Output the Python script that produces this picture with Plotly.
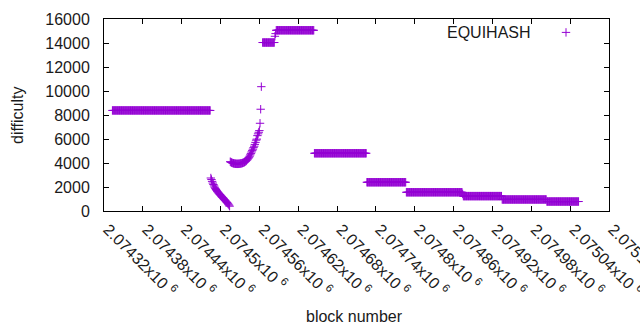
import plotly.graph_objects as go

# ---- data ----
# plateaus: first block, last block, difficulty (constant over the run)
plateau_first = [2074333, 2074565, 2074586, 2074645, 2074726, 2074787, 2074875, 2074935, 2075004]
plateau_last = [2074484, 2074583, 2074644, 2074725, 2074786, 2074873, 2074934, 2075003, 2075053]
plateau_diff = [8380, 14040, 15060, 4810, 2395, 1560, 1240, 960, 790]

# individual blocks between plateaus
single_blocks = [2074584, 2074585, 2074874]
single_diff = [14560, 14780, 1420]

# falling curve after first plateau
fall_first_block = 2074485
fall_diff = [2750, 2620, 2470, 2330, 2210, 2090, 1980, 1880, 1790, 1710,
             1630, 1560, 1490, 1430, 1370, 1310, 1250, 1190, 1130, 1070,
             1010, 950, 890, 830, 770, 710, 640, 570, 490, 400]

# dip and rising curve
rise_first_block = 2074515
rise_diff = [4110, 4070, 4040, 4010, 3990, 3975, 3960, 3950, 3940, 3935,
             3930, 3930, 3930, 3935, 3940, 3950, 3960, 3970, 3985, 4000,
             4020, 4045, 4075, 4110, 4150, 4200, 4260, 4330, 4400, 4480,
             4570, 4680, 4800, 4920, 5030, 5150, 5280, 5400, 5550, 5720,
             5900, 5990, 6280, 6430, 6560, 6700, 7310, 8480, 10360]

x_tick_vals = [2074320 + 60 * i for i in range(14)]
x_tick_text = ["2.07432", "2.07438", "2.07444", "2.0745", "2.07456", "2.07462",
               "2.07468", "2.07474", "2.0748", "2.07486", "2.07492", "2.07498",
               "2.07504", "2.0751"]
y_tick_vals = [0, 2000, 4000, 6000, 8000, 10000, 12000, 14000, 16000]

# ---- assemble series ----
xs, ys = [], []
for a, b, d in zip(plateau_first, plateau_last, plateau_diff):
    for blk in range(a, b + 1):
        xs.append(blk)
        ys.append(d)
for blk, d in zip(single_blocks, single_diff):
    xs.append(blk)
    ys.append(d)
for i, d in enumerate(fall_diff):
    xs.append(fall_first_block + i)
    ys.append(d)
for i, d in enumerate(rise_diff):
    xs.append(rise_first_block + i)
    ys.append(d)

COLOR = "#9400d3"
FONT = "Liberation Sans, Arial, sans-serif"
TXT = "#1a1a1a"

fig = go.Figure()
fig.add_trace(go.Scatter(
    x=xs, y=ys, mode="markers", name=" ",
    marker=dict(symbol="cross-thin", size=6, color=COLOR,
                line=dict(color=COLOR, width=1)),
    showlegend=True, cliponaxis=False,
))

axis_common = dict(
    showline=True, linecolor="black", linewidth=1, mirror="allticks",
    ticks="inside", ticklen=5, tickcolor="black", showgrid=False, zeroline=False,
    automargin=False, ticklabeloverflow="allow",
    tickfont=dict(family=FONT, size=16, color=TXT),
)

fig.update_xaxes(
    range=[2074320, 2075100], tickmode="array", tickvals=x_tick_vals,
    ticktext=[t + "x10 <sup>6</sup>" for t in x_tick_text], tickangle=45,
    ticklabelshift=4, ticklabelstandoff=2,
    **axis_common,
)
fig.update_yaxes(
    range=[0, 16000], tickmode="array", tickvals=y_tick_vals,
    ticktext=[str(v) for v in y_tick_vals], ticklabelstandoff=10,
    **axis_common,
)

fig.add_annotation(text="block number", xref="paper", yref="paper",
                   x=(354 - 104) / 505, y=(211 - 316) / 192,
                   xanchor="center", yanchor="middle", showarrow=False,
                   font=dict(family=FONT, size=16, color=TXT))
fig.add_annotation(text="difficulty", xref="paper", yref="paper",
                   x=(17 - 104) / 505, y=(211 - 115) / 192, textangle=-90,
                   xanchor="center", yanchor="middle", showarrow=False,
                   font=dict(family=FONT, size=16, color=TXT))
fig.add_annotation(text="EQUIHASH", xref="paper", yref="paper",
                   x=(533 - 104) / 505, y=(211 - 32.5) / 192,
                   xanchor="right", yanchor="middle", showarrow=False,
                   font=dict(family=FONT, size=16, color=TXT))

fig.update_layout(
    width=640, height=330,
    margin=dict(l=104, r=31, t=19, b=119),
    paper_bgcolor="white", plot_bgcolor="white",
    legend=dict(x=(546 - 104) / 505, y=(211 - 32.5) / 192, xanchor="left",
                yanchor="middle", bgcolor="rgba(0,0,0,0)",
                font=dict(family=FONT, size=16)),
)

fig.write_html("out.html", config={"displayModeBar": False},
               post_script="document.body.style.margin='0';document.body.style.overflow='hidden';")
